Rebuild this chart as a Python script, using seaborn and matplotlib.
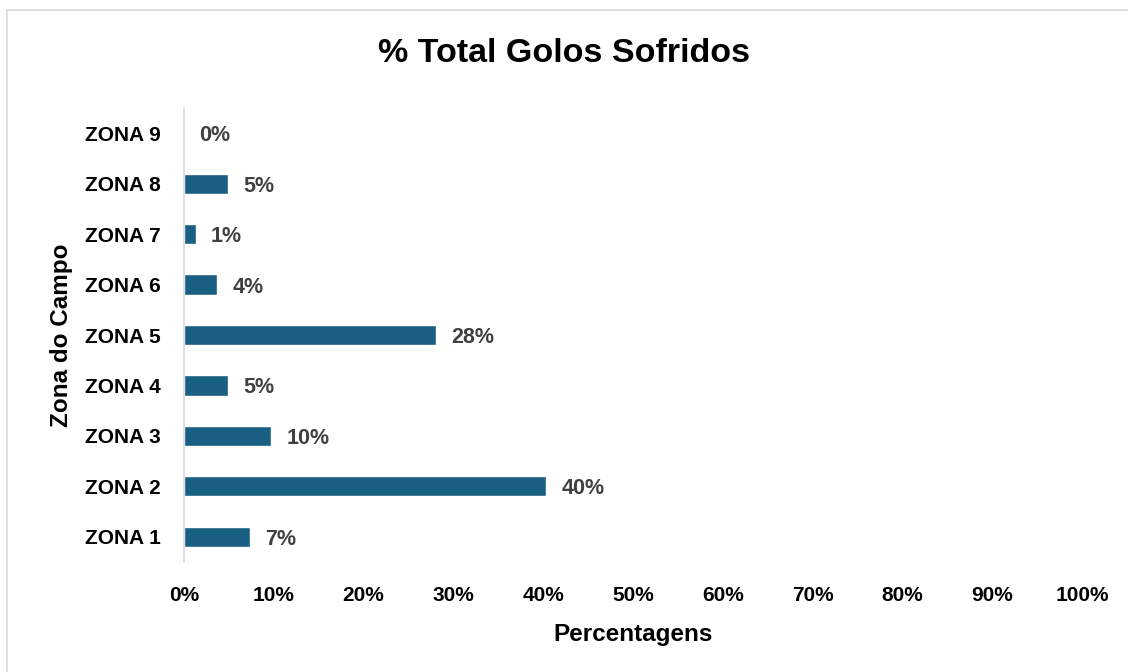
import matplotlib
matplotlib.use("Agg")
import matplotlib.pyplot as plt
from matplotlib.patches import Rectangle
import seaborn as sns
import pandas as pd

zonas = ["ZONA 9", "ZONA 8", "ZONA 7", "ZONA 6", "ZONA 5", "ZONA 4", "ZONA 3", "ZONA 2", "ZONA 1"]
percentagens = [0.0, 4.9, 1.3, 3.7, 28.1, 4.9, 9.7, 40.3, 7.3]
ticks_x = [0, 10, 20, 30, 40, 50, 60, 70, 80, 90, 100]

sns.set_theme(style="white")
plt.rcParams["font.family"] = ["Liberation Sans", "DejaVu Sans"]

df = pd.DataFrame({"zona": zonas, "pct": percentagens})

fig = plt.figure(figsize=(11.28, 6.72), dpi=100)
ax = fig.add_axes([184 / 1128, 1 - 562 / 672, (1082 - 184) / 1128, (562 - 108) / 672])

sns.barplot(data=df, x="pct", y="zona", order=zonas, color="#185F82",
            saturation=1, width=0.4, orient="h", ax=ax)

ax.set_xlim(0, 100)
ax.set_xticks(ticks_x)
ax.set_xticklabels([f"{t}%" for t in ticks_x], fontsize=15, fontweight="bold", color="black")
ax.set_yticks(range(len(zonas)))
ax.set_yticklabels(zonas, fontsize=15, fontweight="bold", color="black")
ax.tick_params(axis="x", length=0, pad=17)
ax.tick_params(axis="y", length=0, pad=17)

for s in ["top", "right", "bottom"]:
    ax.spines[s].set_visible(False)
ax.spines["left"].set_color("#D9D9D9")
ax.spines["left"].set_linewidth(1.2)

for i, v in enumerate(percentagens):
    ax.annotate(f"{round(v):.0f}%", xy=(v, i), xytext=(11, 0), textcoords="offset points",
                ha="left", va="center_baseline", fontsize=15.5, fontweight="bold", color="#404040")

ax.set_xlabel("Percentagens", fontsize=17.5, fontweight="bold", color="black", labelpad=13)
ax.set_ylabel("Zona do Campo", fontsize=17.5, fontweight="bold", color="black", labelpad=8)

fig.text(0.5, 1 - 54 / 672, "% Total Golos Sofridos", ha="center", va="center",
         fontsize=24.5, fontweight="bold", color="black")

fig.patches.append(Rectangle((7 / 1128, -0.05), 1.1, 1 - 10 / 672 + 0.05,
                             transform=fig.transFigure, fill=False,
                             edgecolor="#D9D9D9", linewidth=1.2))

fig.savefig("out.png", dpi=100)
